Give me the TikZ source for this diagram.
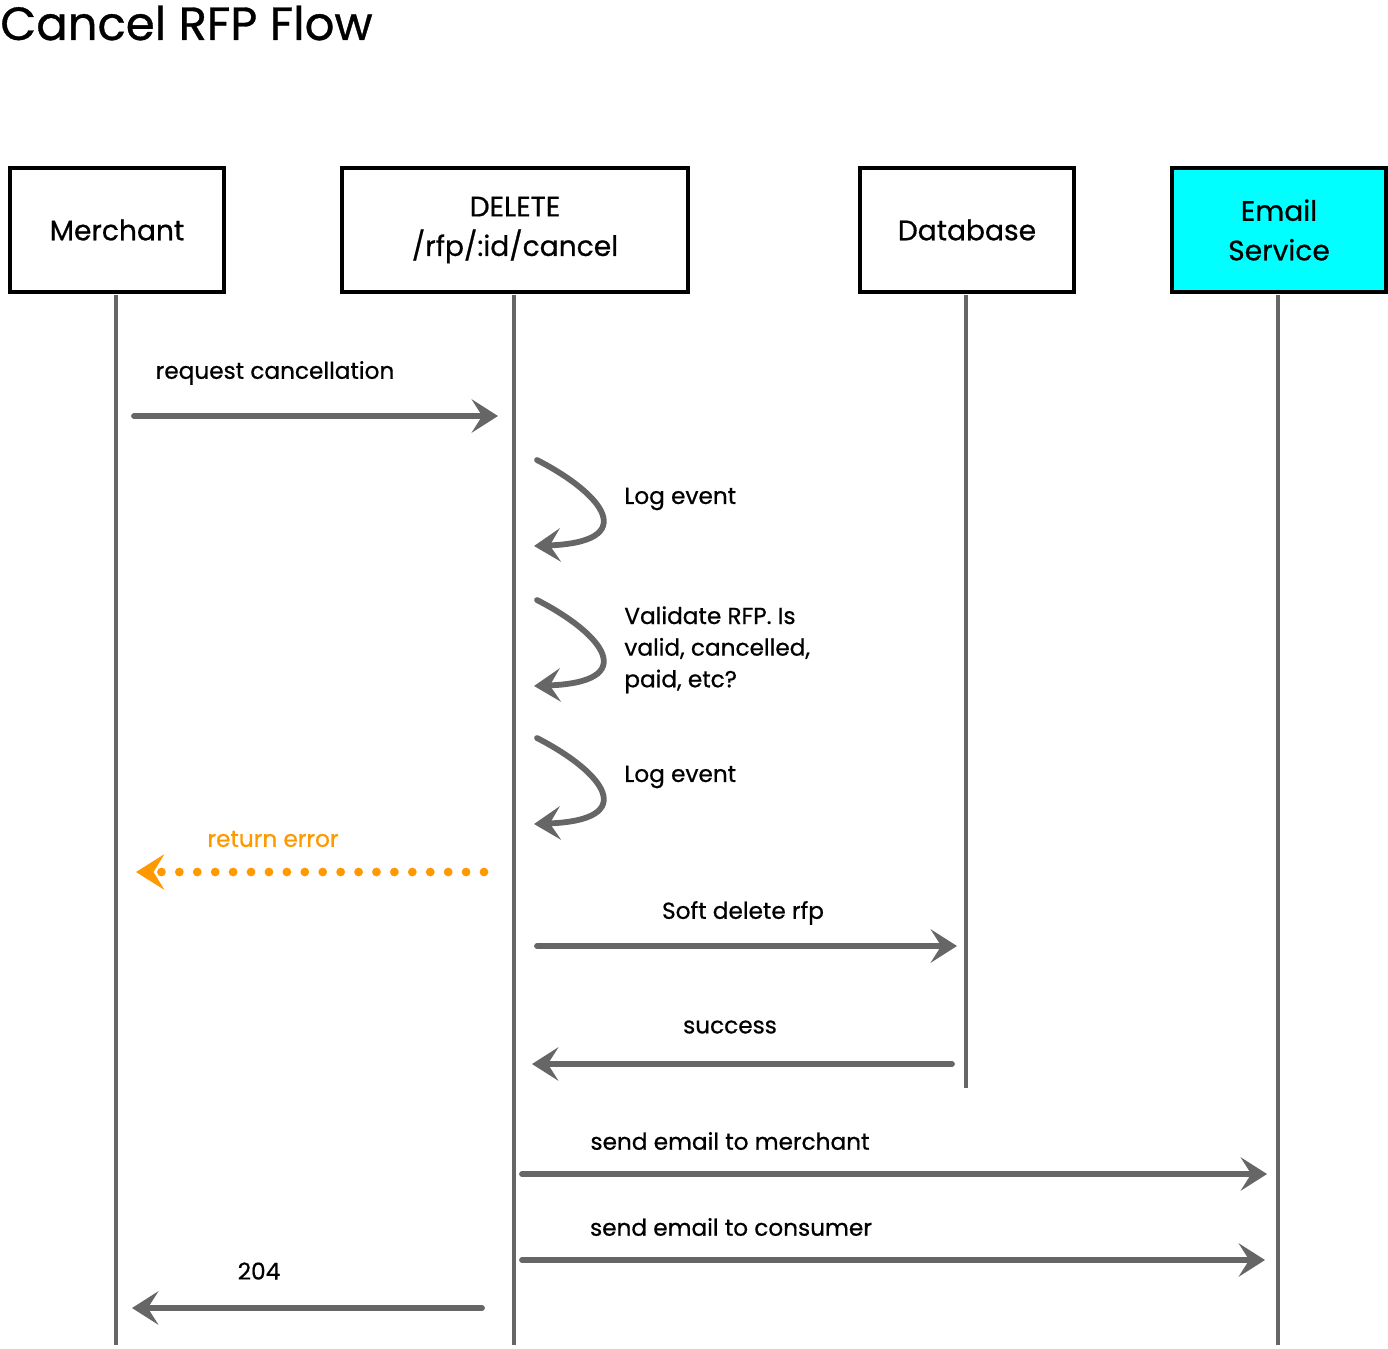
\documentclass[tikz,border=0pt]{standalone}
\usepackage{fontspec}
\setmainfont{Poppins}[FakeBold=0.7]
\usetikzlibrary{arrows.meta}
\definecolor{lineGray}{HTML}{666666}
\definecolor{errOrange}{HTML}{FF9900}
\definecolor{mailCyan}{HTML}{00FFFF}
\begin{document}
\begin{tikzpicture}[x=0.02cm,y=-0.02cm]
	\tikzstyle{Actor} = [rectangle, draw, line width=2pt, minimum width=4.28cm, minimum height=2.48cm, inner sep=0pt, align=center, font=\fontsize{16}{22.5}\selectfont]
	\tikzstyle{Actorwide} = [Actor, minimum width=6.92cm]
	\tikzstyle{Life} = [draw=lineGray, line width=2pt]
	\tikzstyle{Msg} = [draw=lineGray, line width=3.3pt, line cap=round, -{Stealth[length=15pt, width=19pt, inset=6pt]}]
	\tikzstyle{Err} = [draw=errOrange, line width=5pt, line cap=round, dash pattern=on 0pt off 10.2pt, -{Stealth[length=16pt, width=20pt, inset=6pt]}]
	\tikzstyle{Label} = [inner sep=0pt, font=\fontsize{13.2}{18}\selectfont]
	\useasboundingbox (0,0) rectangle (1388,1348);
	% title
	\node (title) at (0,40) [anchor=base west, inner sep=0pt, font=\fontsize{26.5}{30}\selectfont] {Cancel RFP Flow};
	% actors
	\node (1) at (117,230) [Actor] {Merchant};
	\node (2) at (515,230) [Actorwide] {DELETE\\/rfp/:id/cancel};
	\node (3) at (967,230) [Actor] {Database};
	\node (4) at (1279,230) [Actor, fill=mailCyan] {Email\\Service};
	% lifelines
	\coordinate (1e) at (116,1345);
	\coordinate (2e) at (514,1345);
	\coordinate (3e) at (966,1088);
	\coordinate (4e) at (1278,1345);
	\draw [Life] (116,295) to (1e);
	\draw [Life] (514,295) to (2e);
	\draw [Life] (966,295) to (3e);
	\draw [Life] (1278,295) to (4e);
	% request cancellation
	\coordinate (a1) at (134,416);
	\coordinate (a2) at (498,416);
	\draw [Msg] (a1) to (a2);
	\node (l1) at (275,373) [Label] {request cancellation};
	% self calls
	\foreach \y/\n in {460/b, 600/c, 738/d} {
		\coordinate (\n1) at (537,\y);
		\coordinate (\n2) at (534,\y+86);
		\draw [Msg] (\n1) .. controls (605,\y+35) and (640,\y+82) .. (\n2);
	}
	\node (l2) at (624,499) [Label, anchor=west] {Log event};
	\node (l3) at (624,606) [Label, anchor=north west, align=left] {Validate RFP. Is\\valid, cancelled,\\paid, etc?};
	\node (l4) at (624,777) [Label, anchor=west] {Log event};
	% return error
	\coordinate (e1) at (484,872);
	\coordinate (e2) at (136,872);
	\draw [Err] (e1) to (e2);
	\node (l5) at (273,839) [Label, text=errOrange] {return error};
	% database
	\coordinate (f1) at (537,946);
	\coordinate (f2) at (957,946);
	\draw [Msg] (f1) to (f2);
	\node (l6) at (743,913) [Label] {Soft delete rfp};
	\coordinate (g1) at (952,1064);
	\coordinate (g2) at (532,1064);
	\draw [Msg] (g1) to (g2);
	\node (l7) at (730,1027) [Label] {success};
	% emails
	\coordinate (h1) at (522,1174);
	\coordinate (h2) at (1267,1174);
	\draw [Msg] (h1) to (h2);
	\node (l8) at (730,1141) [Label] {send email to merchant};
	\coordinate (k1) at (522,1260);
	\coordinate (k2) at (1265,1260);
	\draw [Msg] (k1) to (k2);
	\node (l9) at (731,1227) [Label] {send email to consumer};
	% response
	\coordinate (m1) at (482,1308);
	\coordinate (m2) at (132,1308);
	\draw [Msg] (m1) to (m2);
	\node (l10) at (259,1271) [Label] {204};
\end{tikzpicture}
\end{document}
